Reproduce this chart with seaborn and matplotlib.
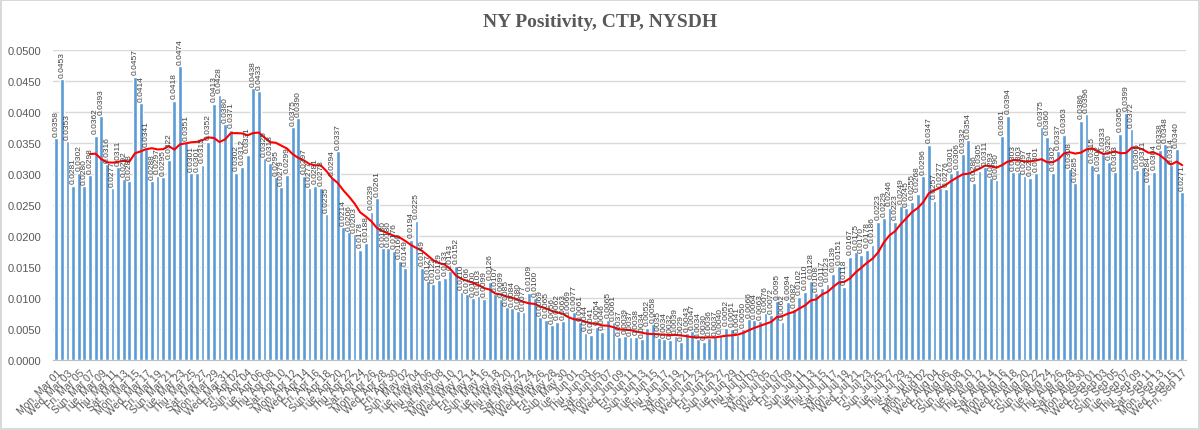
import matplotlib
matplotlib.use('Agg')
import matplotlib.pyplot as plt
import numpy as np
import pandas as pd
import seaborn as sns

# daily positivity
mar = [0.0358, 0.0453, 0.0353, 0.0281, 0.0302, 0.0280, 0.0298, 0.0362, 0.0393, 0.0316,
       0.0277, 0.0311, 0.0292, 0.0288, 0.0457, 0.0414, 0.0341, 0.0288, 0.0297, 0.0295,
       0.0322, 0.0418, 0.0474, 0.0351, 0.0301, 0.0301, 0.0315, 0.0352, 0.0413, 0.0428,
       0.0380]
apr = [0.0371, 0.0302, 0.0312, 0.0331, 0.0438, 0.0433, 0.0325, 0.0318, 0.0295, 0.0279,
       0.0299, 0.0375, 0.0390, 0.0297, 0.0277, 0.0281, 0.0278, 0.0235, 0.0294, 0.0337,
       0.0214, 0.0206, 0.0203, 0.0178, 0.0188, 0.0239, 0.0261, 0.0180, 0.0180, 0.0176]
may = [0.0160, 0.0149, 0.0194, 0.0225, 0.0149, 0.0127, 0.0122, 0.0129, 0.0133, 0.0143,
       0.0152, 0.0110, 0.0106, 0.0100, 0.0103, 0.0099, 0.0126, 0.0107, 0.0099, 0.0085,
       0.0084, 0.0080, 0.0077, 0.0109, 0.0100, 0.0069, 0.0065, 0.0056, 0.0062, 0.0063,
       0.0069]
jun = [0.0077, 0.0061, 0.0044, 0.0041, 0.0054, 0.0046, 0.0065, 0.0061, 0.0037, 0.0039,
       0.0037, 0.0038, 0.0034, 0.0052, 0.0058, 0.0035, 0.0034, 0.0032, 0.0039, 0.0029,
       0.0043, 0.0047, 0.0034, 0.0030, 0.0036, 0.0037, 0.0040, 0.0052, 0.0051, 0.0041]
jul = [0.0050, 0.0066, 0.0064, 0.0063, 0.0076, 0.0072, 0.0095, 0.0062, 0.0094, 0.0082,
       0.0102, 0.0110, 0.0128, 0.0108, 0.0117, 0.0123, 0.0139, 0.0151, 0.0118, 0.0167,
       0.0175, 0.0170, 0.0178, 0.0186, 0.0223, 0.0229, 0.0246, 0.0223, 0.0249, 0.0245,
       0.0255]
aug = [0.0268, 0.0296, 0.0347, 0.0257, 0.0277, 0.0276, 0.0301, 0.0306, 0.0332, 0.0354,
       0.0286, 0.0305, 0.0311, 0.0293, 0.0290, 0.0361, 0.0394, 0.0303, 0.0303, 0.0297,
       0.0294, 0.0301, 0.0375, 0.0360, 0.0302, 0.0337, 0.0363, 0.0308, 0.0285, 0.0386,
       0.0396]
sep = [0.0315, 0.0302, 0.0333, 0.0320, 0.0303, 0.0365, 0.0399, 0.0372, 0.0306, 0.0311,
       0.0284, 0.0304, 0.0338, 0.0348, 0.0314, 0.0340, 0.0271]

values = mar + apr + may + jun + jul + aug + sep
dates = pd.date_range('2021-03-01', periods=len(values), freq='D')
labels = [d.strftime('%a, %b %d') for d in dates]

df = pd.DataFrame({'day': labels, 'pos': values})
df['ma'] = df['pos'].rolling(7).mean()  # 7-day moving average trendline

sns.set_style('white')
plt.rcParams['font.family'] = ['Liberation Sans', 'DejaVu Sans']

fig = plt.figure(figsize=(12, 4.31), dpi=100)
fig.patch.set_edgecolor('#D9D9D9')
fig.patch.set_linewidth(1.5)
ax = fig.add_axes([0.044, 0.162, 0.944, 0.72])

sns.barplot(data=df, x='day', y='pos', color='#5B9BD5', saturation=1, width=0.68, ax=ax)
sns.lineplot(x=np.arange(len(df)), y=df['ma'], color='red', linewidth=1.5, ax=ax)

for i, v in enumerate(values):
    ax.text(i, v + 0.0004, f'{v:.4f}', rotation=90, ha='center', va='bottom',
            fontsize=6, color='#404040')

ax.set_ylim(0, 0.05)
ax.set_xlim(-0.6, len(values) - 0.4)
ax.set_yticks(np.arange(0, 0.0501, 0.005))
ax.set_yticklabels([f'{t:.4f}' for t in np.arange(0, 0.0501, 0.005)], fontsize=8, color='#595959')
ax.set_xticks(range(0, len(labels), 2))
ax.set_xticklabels(labels[::2], rotation=45, ha='right', rotation_mode='anchor',
                   fontsize=7.5, color='#595959')
ax.tick_params(axis='x', length=3, color='#BFBFBF', pad=2)
ax.tick_params(axis='y', length=0, pad=8)
ax.grid(axis='y', color='#D9D9D9', linewidth=1)
ax.set_axisbelow(True)
for s in ['top', 'right', 'left']:
    ax.spines[s].set_visible(False)
ax.spines['bottom'].set_color('#BFBFBF')
ax.set_xlabel('')
ax.set_ylabel('')

fig.text(0.5, 0.948, 'NY Positivity, CTP, NYSDH', ha='center', va='center',
         fontsize=14, fontweight='bold', color='#595959', family='Liberation Serif')

plt.savefig('out.png', dpi=100)
plt.close()
